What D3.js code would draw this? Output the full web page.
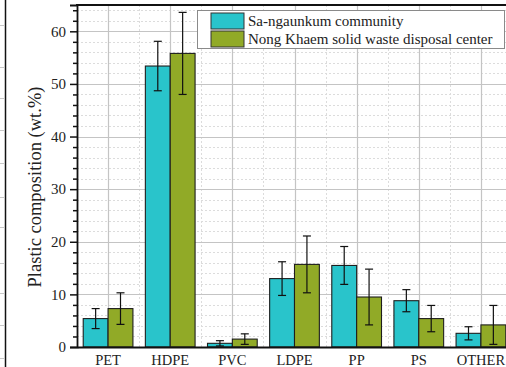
<!DOCTYPE html>
<html>
<head>
<meta charset="utf-8">
<script src="https://cdn.jsdelivr.net/npm/d3@7"></script>
<style>
  html, body { margin: 0; padding: 0; background: #fff; }
  svg { display: block; }
  text { font-family: "Liberation Serif", "Times New Roman", serif; fill: #222; }
</style>
</head>
<body>
<svg id="chart" width="506" height="367"></svg>
<script>
// Plastic types sampled
const categories = ["PET", "HDPE", "PVC", "LDPE", "PP", "PS", "OTHER"];
// Series names
const seriesNames = ["Sa-ngaunkum community", "Nong Khaem solid waste disposal center"];
// Mean composition (wt.%) and standard deviation for each series
const communityValues = [5.4, 53.4, 0.7, 13.0, 15.5, 8.8, 2.6];
const communityErrors = [1.9, 4.7, 0.5, 3.2, 3.6, 2.1, 1.25];
const centerValues = [7.3, 55.8, 1.5, 15.7, 9.5, 5.4, 4.2];
const centerErrors = [3.0, 7.8, 1.0, 5.4, 5.3, 2.5, 3.7];
// Y axis ticks
const yTicks = [0, 10, 20, 30, 40, 50, 60];

const colors = ["#29c4cb", "#91aa27"];
const series = [
  { name: seriesNames[0], values: communityValues, errors: communityErrors, color: colors[0] },
  { name: seriesNames[1], values: centerValues, errors: centerErrors, color: colors[1] }
];

const svg = d3.select("#chart");
const margin = { left: 77, top: 5, bottom: 347 };
const plotRight = 512;
const serif = "Liberation Serif, Times New Roman, serif";

const x = d3.scaleBand()
  .domain(categories)
  .range([margin.left, plotRight])
  .paddingInner(0.2)
  .paddingOuter(0.1);
const xs = d3.scaleBand()
  .domain([0, 1])
  .range([0, x.bandwidth()]);
const y = d3.scaleLinear().domain([0, 65]).range([margin.bottom, margin.top]);

// Neighbouring panel edge on the far left
svg.append("line")
  .attr("x1", 5.5).attr("x2", 5.5).attr("y1", 0).attr("y2", 367)
  .attr("stroke", "#111").attr("stroke-width", 1.5);
svg.append("g").selectAll("line")
  .data([25, 67, 98, 130, 163, 197, 227, 263, 293, 325, 358])
  .join("line")
  .attr("x1", 0).attr("x2", 4.5)
  .attr("y1", d => d + 0.5).attr("y2", d => d + 0.5)
  .attr("stroke", "#c8c8c8").attr("stroke-width", 1);

// Grid
const grid = svg.append("g");
const minorY = d3.range(2, 65, 2).filter(v => v % 10 !== 0);
grid.selectAll(".ymin").data(minorY).join("line")
  .attr("x1", margin.left).attr("x2", plotRight)
  .attr("y1", d => Math.round(y(d)) + 0.5).attr("y2", d => Math.round(y(d)) + 0.5)
  .attr("stroke", "#dcdcdc").attr("stroke-width", 1).attr("stroke-dasharray", "2,2");
const step = x.step();
const boundaries = d3.range(1, categories.length + 1).map(i => margin.left + step * i);
grid.selectAll(".xmin").data(boundaries).join("line")
  .attr("x1", d => Math.round(d) + 0.5).attr("x2", d => Math.round(d) + 0.5)
  .attr("y1", margin.top).attr("y2", margin.bottom)
  .attr("stroke", "#dcdcdc").attr("stroke-width", 1).attr("stroke-dasharray", "2,2");
grid.selectAll(".ymaj").data(yTicks.filter(v => v > 0)).join("line")
  .attr("x1", margin.left).attr("x2", plotRight)
  .attr("y1", d => Math.round(y(d)) + 0.5).attr("y2", d => Math.round(y(d)) + 0.5)
  .attr("stroke", "#c4c4c4").attr("stroke-width", 1.2);
grid.selectAll(".xmaj").data(categories).join("line")
  .attr("x1", d => Math.round(x(d) + x.bandwidth() / 2) + 0.5)
  .attr("x2", d => Math.round(x(d) + x.bandwidth() / 2) + 0.5)
  .attr("y1", margin.top).attr("y2", margin.bottom)
  .attr("stroke", "#c4c4c4").attr("stroke-width", 1.2);

// Bars
const bars = svg.append("g");
series.forEach((s, si) => {
  bars.selectAll(".bar" + si).data(categories).join("rect")
    .attr("x", d => x(d) + xs(si))
    .attr("y", (d, i) => y(s.values[i]))
    .attr("width", xs.bandwidth())
    .attr("height", (d, i) => y(0) - y(s.values[i]))
    .attr("fill", s.color)
    .attr("stroke", "#1e1e1e").attr("stroke-width", 1.1);
});

// Error bars
const errs = svg.append("g").attr("stroke", "#111").attr("stroke-width", 1.2);
series.forEach((s, si) => {
  categories.forEach((c, i) => {
    const cx = x(c) + xs(si) + xs.bandwidth() / 2;
    const lo = Math.max(0, s.values[i] - s.errors[i]);
    const hi = s.values[i] + s.errors[i];
    errs.append("line").attr("x1", cx).attr("x2", cx).attr("y1", y(lo)).attr("y2", y(hi));
    [lo, hi].forEach(v => {
      errs.append("line").attr("x1", cx - 4).attr("x2", cx + 4).attr("y1", y(v)).attr("y2", y(v));
    });
  });
});

// Y axis
const yAxis = svg.append("g").attr("transform", `translate(${margin.left},0)`)
  .call(d3.axisLeft(y).tickValues(yTicks).tickSize(7).tickPadding(4).tickFormat(d3.format("d")));
yAxis.attr("font-family", serif);
yAxis.select(".domain").attr("stroke", "#111").attr("stroke-width", 1.8);
yAxis.selectAll(".tick line").attr("stroke", "#111").attr("stroke-width", 1.5);
yAxis.selectAll(".tick text").attr("font-size", 15).attr("fill", "#222");
svg.append("g").attr("transform", `translate(${margin.left},0)`)
  .call(d3.axisLeft(y).tickValues(minorY).tickSize(4).tickFormat(""))
  .call(g => g.select(".domain").remove())
  .selectAll(".tick line").attr("stroke", "#111").attr("stroke-width", 1.5);

// X axis
const xAxis = svg.append("g").attr("transform", `translate(0,${margin.bottom})`)
  .call(d3.axisBottom(x).tickSize(0).tickPadding(8));
xAxis.attr("font-family", serif);
xAxis.select(".domain").attr("stroke", "#111").attr("stroke-width", 1.8);
xAxis.selectAll(".tick text").attr("font-size", 14.5).attr("fill", "#222");

// Top frame
svg.append("line")
  .attr("x1", margin.left - 1).attr("x2", plotRight)
  .attr("y1", margin.top).attr("y2", margin.top)
  .attr("stroke", "#111").attr("stroke-width", 1.8);

// Axis title
svg.append("text")
  .attr("transform", `translate(41,${(margin.top + margin.bottom) / 2 + 11}) rotate(-90)`)
  .attr("text-anchor", "middle")
  .attr("font-size", 18.5)
  .text("Plastic composition (wt.%)");

// Legend
const legend = svg.append("g");
legend.append("rect")
  .attr("x", 197.5).attr("y", 10.5).attr("width", 307).attr("height", 38)
  .attr("fill", "#fff").attr("stroke", "#8a8a8a").attr("stroke-width", 1);
series.forEach((s, si) => {
  legend.append("rect")
    .attr("x", 211).attr("y", 13 + si * 18).attr("width", 33).attr("height", 16)
    .attr("fill", s.color).attr("stroke", "#333").attr("stroke-width", 1);
  legend.append("text")
    .attr("x", 248).attr("y", 26 + si * 17.5)
    .attr("font-size", 15)
    .text(s.name);
});
</script>
</body>
</html>
